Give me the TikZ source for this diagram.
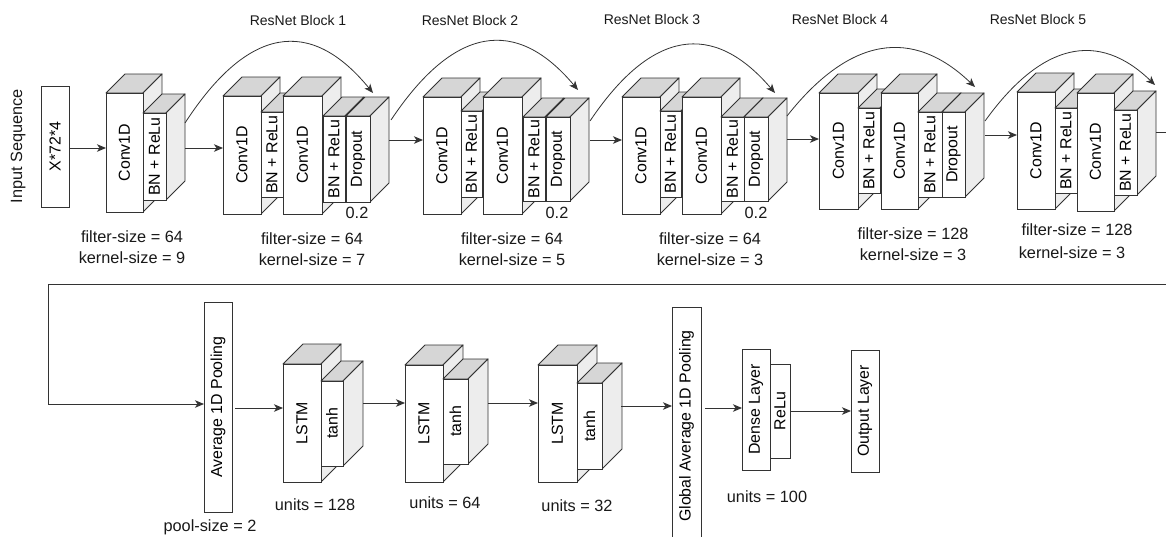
\documentclass[tikz,border=0pt]{standalone}
\usepackage{fontspec}
\setmainfont{Liberation Sans}
\usetikzlibrary{arrows.meta,calc}
\definecolor{lc}{HTML}{333333}
\definecolor{topc}{HTML}{D6D6D6}
\definecolor{sidec}{HTML}{EDEDED}
\tikzset{
 ln/.style={draw=lc, line width=0.9pt},
 topf/.style={ln, fill=topc, line join=round},
 sidef/.style={ln, fill=sidec, line join=round},
 front/.style={ln, fill=white, inner sep=0pt, outer sep=0pt, font=\fontsize{15.9}{19}\selectfont},
 lab/.style={inner sep=0pt, font=\fontsize{16.3}{19}\selectfont, text=black!90},
 ttl/.style={inner sep=0pt, font=\fontsize{14}{16}\selectfont, text=black!90},
 arr/.style={draw=lc, line width=0.9pt, -{Stealth[length=9pt,width=7.5pt,inset=2.5pt]}},
 skip/.style={draw=lc, line width=0.8pt, -{Stealth[length=9pt,width=7.5pt,inset=2.5pt]}},
}
% #1 name, #2 x1, #3 y1, #4 x2, #5 y2, #6 depth, #7 text
\newcommand{\layercube}[7]{%
  \filldraw[topf] (#2,#3) -- ++(#6,-#6) -- ({#4+#6},{#3-#6}) -- (#4,#3) -- cycle;
  \filldraw[sidef] (#4,#3) -- ({#4+#6},{#3-#6}) -- ({#4+#6},{#5-#6}) -- (#4,#5) -- cycle;
  \node[front, minimum width={#4-#2}, minimum height={#5-#3}] (#1) at ({(#2+#4)/2},{(#3+#5)/2}) {\rotatebox{90}{#7}};%
}
\newcommand{\flatbox}[6]{%
  \node[front, minimum width={#4-#2}, minimum height={#5-#3}] (#1) at ({(#2+#4)/2},{(#3+#5)/2}) {\rotatebox{90}{#6}};%
}
\newcommand{\skiparc}[3]{%
  \draw[skip] (#1) .. controls ($(#1)!0.6667!(#3)$) and ($(#2)!0.6667!(#3)$) .. (#2);%
}
\begin{document}
\begin{tikzpicture}[x=1pt,y=-1pt]
\useasboundingbox (0,0) rectangle (1166,536);
\fill[white] (0,0) rectangle (1166,536);

% ---- titles
\node[ttl] (t1) at (298,20) {ResNet Block 1};
\node[ttl] (t2) at (470,20) {ResNet Block 2};
\node[ttl] (t3) at (652,19) {ResNet Block 3};
\node[ttl] (t4) at (840,19) {ResNet Block 4};
\node[ttl] (t5) at (1038,19) {ResNet Block 5};

% ---- input
\node[lab, rotate=90] (inseq) at (18,146) {Input Sequence};
\flatbox{in}{41}{86}{69}{207}{X*72*4}

% ---- block 0
\layercube{c0}{106}{93}{143}{212}{19}{Conv1D}
\layercube{n0}{143}{113}{166}{200}{19}{BN + ReLu}
\node[lab] (f0) at (132,237) {filter-size = 64};
\node[lab] (k0) at (132,258) {kernel-size = 9};

% ---- block 1
\layercube{b1c1}{223}{96}{261}{214}{19}{Conv1D}
\layercube{b1n1}{261}{112}{283}{197}{19}{BN + ReLu}
\layercube{b1c2}{283}{96}{322}{214}{19}{Conv1D}
\layercube{b1n2}{323}{116}{345}{202}{19}{BN + ReLu}
\layercube{b1d}{346}{116}{370}{202}{19}{Dropout}
\node[lab] (r1) at (357,213) {0.2};
\node[lab] (f1) at (312,239) {filter-size = 64};
\node[lab] (k1) at (312,260) {kernel-size = 7};

% ---- block 2
\layercube{b2c1}{423}{97}{461}{214}{19}{Conv1D}
\layercube{b2n1}{461}{111}{482}{197}{19}{BN + ReLu}
\layercube{b2c2}{483}{97}{522}{214}{19}{Conv1D}
\layercube{b2n2}{523}{117}{545}{201}{19}{BN + ReLu}
\layercube{b2d}{546}{117}{570}{201}{19}{Dropout}
\node[lab] (r2) at (557,213) {0.2};
\node[lab] (f2) at (512,239) {filter-size = 64};
\node[lab] (k2) at (512,260) {kernel-size = 5};

% ---- block 3
\layercube{b3c1}{622}{97}{660}{214}{19}{Conv1D}
\layercube{b3n1}{660}{111}{681}{197}{19}{BN + ReLu}
\layercube{b3c2}{682}{97}{721}{214}{19}{Conv1D}
\layercube{b3n2}{721}{117}{744}{201}{19}{BN + ReLu}
\layercube{b3d}{744}{117}{768}{201}{19}{Dropout}
\node[lab] (r3) at (756,213) {0.2};
\node[lab] (f3) at (710,239) {filter-size = 64};
\node[lab] (k3) at (710,260) {kernel-size = 3};

% ---- block 4
\layercube{b4c1}{819}{93}{858}{209}{19}{Conv1D}
\layercube{b4n1}{858}{108}{880}{193}{19}{BN + ReLu}
\layercube{b4c2}{881}{93}{918}{209}{19}{Conv1D}
\layercube{b4n2}{918}{112}{942}{197}{19}{BN + ReLu}
\layercube{b4d}{942}{112}{965}{197}{19}{Dropout}
\node[lab] (f4) at (913,234) {filter-size = 128};
\node[lab] (k4) at (913,255) {kernel-size = 3};

% ---- block 5
\layercube{b5c1}{1017}{92}{1055}{209}{19}{Conv1D}
\layercube{b5n1}{1055}{108}{1077}{193}{19}{BN + ReLu}
\layercube{b5c2}{1077}{93}{1114}{211}{19}{Conv1D}
\layercube{b5n2}{1114}{110}{1137}{195}{19}{BN + ReLu}
\node[lab] (f5) at (1077,230) {filter-size = 128};
\node[lab] (k5) at (1072,253) {kernel-size = 3};

% ---- top-row arrows
\coordinate (o0) at (69,148);
\coordinate (o1) at (185,148);
\coordinate (o2) at (389,140);
\coordinate (o3) at (590,140);
\coordinate (o4) at (787,139);
\coordinate (o5) at (985,135);
\coordinate (o6) at (1156,132);
\draw[arr] (o0) -- (o0 -| c0.west);
\draw[arr] (o1) -- (o1 -| b1c1.west);
\draw[arr] (o2) -- (o2 -| b2c1.west);
\draw[arr] (o3) -- (o3 -| b3c1.west);
\draw[arr] (o4) -- (o4 -| b4c1.west);
\draw[arr] (o5) -- (o5 -| b5c1.west);

% ---- skip connections
\coordinate (s1) at (185,123); \coordinate (e1) at (373,93); \coordinate (m1) at (279,-22);
\coordinate (s2) at (391,120); \coordinate (e2) at (578,90); \coordinate (m2) at (485,-21);
\coordinate (s3) at (590,121); \coordinate (e3) at (775,93); \coordinate (m3) at (682,-16);
\coordinate (s4) at (787,116); \coordinate (e4) at (975,87); \coordinate (m4) at (881,-3);
\coordinate (s5) at (985,121); \coordinate (e5) at (1155,85); \coordinate (m5) at (1070,3);
\skiparc{s1}{e1}{m1}
\skiparc{s2}{e2}{m2}
\skiparc{s3}{e3}{m3}
\skiparc{s4}{e4}{m4}
\skiparc{s5}{e5}{m5}

% ---- lower row
\flatbox{pool}{204}{302}{232}{512}{Average 1D Pooling}
\node[lab] (ps) at (210,527) {pool-size = 2};

\layercube{l1}{283}{364}{321}{482}{20}{LSTM}
\layercube{th1}{321}{381}{343}{466}{20}{tanh}
\node[lab] (u1) at (315,505) {units = 128};

\layercube{l2}{405}{365}{443}{482}{20}{LSTM}
\layercube{th2}{443}{379}{468}{464}{20}{tanh}
\node[lab] (u2) at (445,503) {units = 64};

\layercube{l3}{538}{365}{577}{482}{20}{LSTM}
\layercube{th3}{577}{383}{602}{469}{20}{tanh}
\node[lab] (u3) at (577,506) {units = 32};

\flatbox{gpool}{672}{307}{701}{545}{Global Average 1D Pooling}

\flatbox{dense}{742}{349}{770}{470}{Dense Layer}
\flatbox{relu}{770}{364}{790}{458}{ReLu}
\node[lab] (u4) at (767,497) {units = 100};

\flatbox{outl}{851}{350}{879}{472}{Output Layer}

% ---- long connector from block 5 to pooling
\coordinate (w1) at (1180,132);
\coordinate (w2) at (1180,284);
\coordinate (w3) at (48,284);
\coordinate (w4) at (48,404);
\draw[arr] (o6) -- (w1) -- (w2) -- (w3) -- (w4) -- (w4 -| pool.west);

% ---- lower arrows
\coordinate (p0) at (235,408);
\coordinate (p1) at (363,403);
\coordinate (p2) at (488,403);
\coordinate (p3) at (621,406);
\coordinate (p4) at (705,408);
\coordinate (p5) at (790,411);
\draw[arr] (p0) -- (p0 -| l1.west);
\draw[arr] (p1) -- (p1 -| l2.west);
\draw[arr] (p2) -- (p2 -| l3.west);
\draw[arr] (p3) -- (p3 -| gpool.west);
\draw[arr] (p4) -- (p4 -| dense.west);
\draw[arr] (p5) -- (p5 -| outl.west);
\end{tikzpicture}
\end{document}
